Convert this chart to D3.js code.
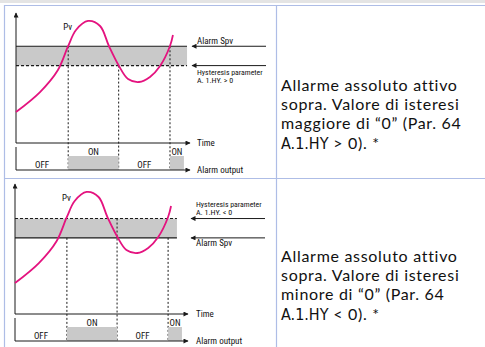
<!DOCTYPE html>
<meta charset="utf-8">
<style>
  body { margin: 0; background: #fff; }
  .lbl { font-family: "Liberation Sans Narrow", "Roboto Condensed", "DejaVu Sans Condensed", sans-serif; font-size: 9px; fill: #111; }
  .desc { font-family: Lato, "Noto Sans", sans-serif; font-size: 16px; letter-spacing: 0.7px; fill: #111; }
  .seg { font-family: "Liberation Sans Narrow", "DejaVu Sans Condensed", sans-serif; letter-spacing: 0; }
</style>
<script src="https://d3js.org/d3.v7.min.js"></script>
<body>
</body>
<script>
// process value (Pv) samples, same curve in both diagrams
var timeVals = [0, 13.8, 24.1, 30, 34.5, 41.4, 48.3, 53.4, 59.2, 64.4, 70.7, 77, 82.8, 88.5, 90.2];
var pvVals   = [24, 39.5, 56.6, 75.2, 87.6, 94.6, 90.7, 75.2, 59.7, 49.6, 47.3, 51.2, 59.7, 75.2, 83.7];

// alarm setpoint and hysteresis level, per diagram
var spvLevels = [75, 59];
var hystLevels = [60, 74];
var hystSigns = ["> 0", "< 0"];

// output ON intervals (time)
var onStarts = [30, 88.5];
var onEnds = [59, 96.5];

var descLines = [
  ["Allarme assoluto attivo", "sopra. Valore di isteresi", "maggiore di \u201c0\u201d (Par. 64"],
  ["Allarme assoluto attivo", "sopra. Valore di isteresi", "minore di \u201c0\u201d (Par. 64"]
];

var width = 485, height = 347;
var pink = "#e4137f", grey = "#c9c9c9", ink = "#1a1a1a", border = "#aebde6";

var svg = d3.select("body").append("svg")
    .attr("width", width)
    .attr("height", height);

var defs = svg.append("defs");
defs.append("marker").attr("id", "arr")
    .attr("viewBox", "0 0 10 10").attr("refX", 9).attr("refY", 5)
    .attr("markerWidth", 6).attr("markerHeight", 5).attr("orient", "auto")
    .attr("markerUnits", "userSpaceOnUse")
  .append("path").attr("d", "M0,0L10,5L0,10Z").attr("fill", ink);

// page strip and table borders
svg.append("rect").attr("x", 0).attr("y", 0).attr("width", width).attr("height", 3).attr("fill", "#e4e4e4");
var tb = svg.append("g").attr("stroke", border).attr("stroke-width", 1.2);
tb.append("line").attr("x1", 4.5).attr("x2", 4.5).attr("y1", 5).attr("y2", height);
tb.append("line").attr("x1", 276.5).attr("x2", 276.5).attr("y1", 5).attr("y2", height);
tb.append("line").attr("x1", 4).attr("x2", width).attr("y1", 5.5).attr("y2", 5.5);
tb.append("line").attr("x1", 4).attr("x2", width).attr("y1", 178.5).attr("y2", 178.5);

var layouts = [
  {dy: 0, x0: 16, x1: 190, bandEnd: 98.3, arrowX: 192, labelX: 197, rightX: 266},
  {dy: 171, x0: 15, x1: 188, bandEnd: 93.6, arrowX: 191, labelX: 196, rightX: 265}
];

function drawPanel(i) {
  var L = layouts[i];
  var g = svg.append("g").attr("transform", "translate(0," + L.dy + ")");
  var x = d3.scaleLinear().domain([0, 100]).range([L.x0, L.x1]);
  var y = d3.scaleLinear().domain([0, 100]).range([143, 14]);
  var outBase = 170, outTop = 147, onTop = 156;

  var spv = spvLevels[i], hy = hystLevels[i];
  var hi = Math.max(spv, hy), lo = Math.min(spv, hy);

  // hysteresis band
  g.append("rect")
      .attr("x", x(0)).attr("y", y(hi))
      .attr("width", x(L.bandEnd) - x(0)).attr("height", y(lo) - y(hi))
      .attr("fill", grey);

  // vertical dashed drop lines at switching instants
  var switches = [onStarts[0], onEnds[0], onStarts[1]];
  var switchLevel = [spv, hy, spv];
  g.selectAll(".drop").data(switches).enter().append("line")
      .attr("x1", function(d) { return x(d); }).attr("x2", function(d) { return x(d); })
      .attr("y1", function(d, j) { return y(switchLevel[j]); }).attr("y2", outBase)
      .attr("stroke", ink).attr("stroke-width", 1).attr("stroke-dasharray", "2,2");

  // setpoint (solid) and hysteresis (dashed) lines
  g.append("line").attr("x1", x(0)).attr("x2", x(L.bandEnd))
      .attr("y1", y(spv)).attr("y2", y(spv)).attr("stroke", ink).attr("stroke-width", 1.1);
  g.append("line").attr("x1", x(0)).attr("x2", x(L.bandEnd))
      .attr("y1", y(hy)).attr("y2", y(hy)).attr("stroke", ink).attr("stroke-width", 1.1)
      .attr("stroke-dasharray", "3,2");

  // axes
  g.append("line").attr("x1", x(0)).attr("x2", x(0)).attr("y1", y(0)).attr("y2", y(100) - 1)
      .attr("stroke", ink).attr("marker-end", "url(#arr)");
  g.append("line").attr("x1", x(0)).attr("x2", x(100)).attr("y1", y(0)).attr("y2", y(0))
      .attr("stroke", ink).attr("marker-end", "url(#arr)");
  g.append("line").attr("x1", x(0)).attr("x2", x(0)).attr("y1", outTop).attr("y2", outBase)
      .attr("stroke", ink);

  // output ON blocks
  g.selectAll(".on").data(onStarts).enter().append("rect")
      .attr("x", function(d) { return x(d); }).attr("y", onTop)
      .attr("width", function(d, j) { return x(onEnds[j]) - x(d); })
      .attr("height", outBase - onTop).attr("fill", grey);
  g.append("line").attr("x1", x(0)).attr("x2", x(100)).attr("y1", outBase).attr("y2", outBase)
      .attr("stroke", ink).attr("marker-end", "url(#arr)");

  g.selectAll(".ontxt").data(onStarts).enter().append("text").attr("class", "lbl")
      .attr("x", function(d, j) { return (x(d) + x(onEnds[j])) / 2; }).attr("y", onTop - 1)
      .attr("text-anchor", "middle").text("ON");
  var offMid = [(0 + onStarts[0]) / 2, (onEnds[0] + onStarts[1]) / 2];
  g.selectAll(".offtxt").data(offMid).enter().append("text").attr("class", "lbl")
      .attr("x", function(d) { return x(d); }).attr("y", outBase - 2)
      .attr("text-anchor", "middle").text("OFF");

  // Pv curve
  var line = d3.line()
      .x(function(d) { return x(d[0]); })
      .y(function(d) { return y(d[1]); })
      .curve(d3.curveCatmullRom.alpha(0.5));
  g.append("path").datum(d3.zip(timeVals, pvVals))
      .attr("d", line).attr("fill", "none").attr("stroke", pink).attr("stroke-width", 1.8);
  g.append("text").attr("class", "lbl").attr("x", x(27.2)).attr("y", 30).text("Pv");

  // right-hand pointers and labels
  [spv, hy].forEach(function(v) {
    g.append("line").attr("x1", L.rightX).attr("x2", L.arrowX).attr("y1", y(v)).attr("y2", y(v))
        .attr("stroke", ink).attr("marker-end", "url(#arr)");
  });
  g.append("text").attr("class", "lbl").attr("x", L.labelX).attr("y", y(0) + 3).text("Time");
  g.append("text").attr("class", "lbl").attr("x", L.labelX).attr("y", outBase + 3).text("Alarm output");
  var spvY = spv > hy ? y(spv) - 2 : y(spv) + 8;
  g.append("text").attr("class", "lbl").attr("x", L.labelX).attr("y", spvY).text("Alarm Spv");
  var hyY = spv > hy ? y(hy) + 9 : y(hy) - 12;
  g.append("text").attr("class", "lbl").attr("x", L.labelX).attr("y", hyY)
      .style("font-size", "7.8px").text("Hysteresis parameter");
  g.append("text").attr("class", "lbl").attr("x", L.labelX).attr("y", hyY + 8.5)
      .style("font-size", "8px").text("A. 1.HY. " + hystSigns[i]);

  // description text
  var t = g.append("text").attr("class", "desc");
  descLines[i].forEach(function(s, j) {
    t.append("tspan").attr("x", 281).attr("y", 91 + j * 19.2).text(s);
  });
  var last = t.append("tspan").attr("x", 281).attr("y", 91 + 3 * 19.2);
  last.append("tspan").attr("class", "seg").text("A.1.HY");
  last.append("tspan").text(" " + hystSigns[i] + "). *");
}

drawPanel(0);
drawPanel(1);
</script>
